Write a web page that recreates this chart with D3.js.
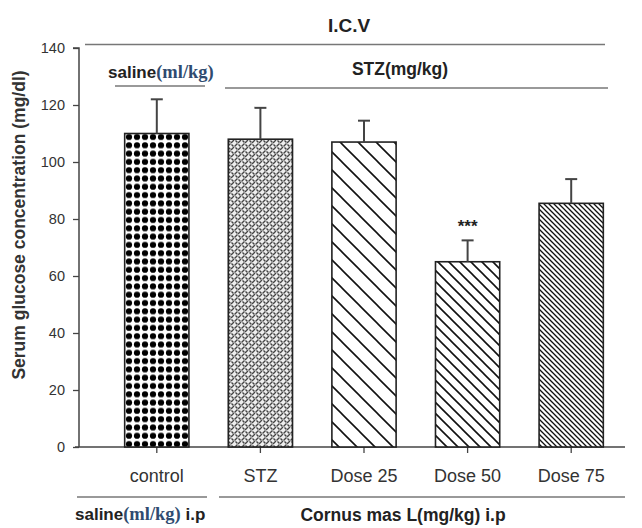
<!DOCTYPE html>
<html><head><meta charset="utf-8">
<script src="https://cdn.jsdelivr.net/npm/d3@7"></script>
<style>body{margin:0;background:#fff}svg{display:block}text{font-family:"Liberation Sans",Arial,sans-serif}</style>
</head><body>
<script>
const categories = ["control","STZ","Dose 25","Dose 50","Dose 75"];
const means = [110, 108, 107, 65, 85.5];
const errors = [12, 11, 7.5, 7.5, 8.5];
const patterns = ["dots","weave","diag18","diag11","diag5"];
const significance = ["","","","***",""];
const yTicks = [0,20,40,60,80,100,120,140];

const W = 642, H = 528;
const svg = d3.select("body").append("svg").attr("width", W).attr("height", H);
const defs = svg.append("defs");

// patterns
const pd = defs.append("pattern").attr("id","dots").attr("patternUnits","userSpaceOnUse")
  .attr("width",8).attr("height",8.3).attr("x",125).attr("y",0);
pd.append("rect").attr("width",8).attr("height",8.3).attr("fill","#fff");
pd.append("circle").attr("cx",4).attr("cy",4.15).attr("r",3.1).attr("fill","#000");

const pw = defs.append("pattern").attr("id","weave").attr("patternUnits","userSpaceOnUse")
  .attr("width",7).attr("height",7);
pw.append("rect").attr("width",7).attr("height",7).attr("fill","#eee");
pw.append("path").attr("d","M0,3 L3,0 M3.5,6.5 L6.5,3.5 M0.5,4.5 L2.5,6.5 M4.5,0.5 L6.5,2.5")
  .attr("stroke","#444").attr("stroke-width",1.4).attr("fill","none");

function diag(id, s, w) {
  const p = defs.append("pattern").attr("id",id).attr("patternUnits","userSpaceOnUse")
    .attr("width",s).attr("height",s);
  p.append("rect").attr("width",s).attr("height",s).attr("fill","#fff");
  p.append("path").attr("d",`M0,0L${s},${s} M${s-2},-2 L${s+2},2 M-2,${s-2} L2,${s+2}`)
    .attr("stroke","#111").attr("stroke-width",w).attr("fill","none");
}
diag("diag18", 18, 1.6);
diag("diag11", 11, 1.6);
diag("diag5", 5, 1.3);

const y = d3.scaleLinear().domain([0,140]).range([447,48]);
const x = d3.scaleBand().domain(categories).range([105,623]).paddingInner(0.38).paddingOuter(0.19);

// y axis
const ya = svg.append("g").attr("transform","translate(79,0)")
  .call(d3.axisLeft(y).tickValues(yTicks).tickSize(6).tickPadding(8));
ya.select(".domain").attr("stroke","#444").attr("stroke-width",1.5).attr("d","M-6,48H0V447");
ya.selectAll(".tick line").attr("stroke","#444").attr("stroke-width",1.3);
ya.selectAll(".tick text").attr("font-size",14.5).attr("fill","#333");

// x axis
const xa = svg.append("g").attr("transform","translate(0,447)")
  .call(d3.axisBottom(x).tickSize(6).tickPadding(16));
xa.select(".domain").remove();
xa.append("line").attr("x1",75).attr("x2",625).attr("y1",0).attr("y2",0).attr("stroke","#444").attr("stroke-width",1.5);
xa.selectAll(".tick line").attr("stroke","#444").attr("stroke-width",1.3);
xa.selectAll(".tick text").attr("font-size",18).attr("fill","#333");

// bars
const data = categories.map((c,i)=>({c, m:means[i], e:errors[i], p:patterns[i], s:significance[i]}));
svg.append("g").selectAll("rect").data(data).join("rect")
  .attr("x",d=>x(d.c)).attr("width",x.bandwidth())
  .attr("y",d=>y(d.m)).attr("height",d=>y(0)-y(d.m))
  .attr("fill",d=>`url(#${d.p})`).attr("stroke","#222").attr("stroke-width",1.6);

// error bars
const eb = svg.append("g").attr("stroke","#444").attr("stroke-width",2);
data.forEach(d=>{
  const cx = x(d.c)+x.bandwidth()/2;
  eb.append("line").attr("x1",cx).attr("x2",cx).attr("y1",y(d.m)).attr("y2",y(d.m+d.e));
  eb.append("line").attr("x1",cx-6).attr("x2",cx+6).attr("y1",y(d.m+d.e)).attr("y2",y(d.m+d.e));
});
svg.append("g").selectAll("text").data(data.filter(d=>d.s)).join("text")
  .attr("x",d=>x(d.c)+x.bandwidth()/2).attr("y",d=>y(d.m+d.e)-8)
  .attr("text-anchor","middle").attr("font-size",17).attr("font-weight","bold").attr("fill","#222")
  .text(d=>d.s);

// y label
svg.append("text").attr("transform","translate(25,225) rotate(-90)")
  .attr("text-anchor","middle").attr("font-size",17.5).attr("font-weight","bold").attr("fill","#333")
  .text("Serum glucose concentration (mg/dl)");

// annotations
const ann = svg.append("g");
ann.append("text").attr("x",349).attr("y",32).attr("text-anchor","middle")
  .attr("font-size",19).attr("font-weight","bold").attr("fill","#222").text("I.C.V");
ann.append("line").attr("x1",85).attr("x2",605).attr("y1",44.5).attr("y2",44.5).attr("stroke","#777").attr("stroke-width",1.5);

const sal = ann.append("text").attr("x",108).attr("y",78).attr("font-weight","bold");
sal.append("tspan").attr("font-size",17).attr("fill","#222").text("saline");
sal.append("tspan").attr("font-size",18.5).attr("fill","#2f4b70").attr("font-family","'Liberation Serif','DejaVu Serif',serif").text("(ml/kg)");
ann.append("line").attr("x1",115).attr("x2",205).attr("y1",86).attr("y2",86).attr("stroke","#777").attr("stroke-width",1.5);

ann.append("text").attr("x",400).attr("y",75).attr("text-anchor","middle")
  .attr("font-size",17.5).attr("font-weight","bold").attr("fill","#222").text("STZ(mg/kg)");
ann.append("line").attr("x1",225).attr("x2",608).attr("y1",88).attr("y2",88).attr("stroke","#777").attr("stroke-width",1.5);

ann.append("line").attr("x1",77).attr("x2",207).attr("y1",497).attr("y2",497).attr("stroke","#777").attr("stroke-width",1.5);
ann.append("line").attr("x1",219).attr("x2",625).attr("y1",497).attr("y2",497).attr("stroke","#777").attr("stroke-width",1.5);

const sal2 = ann.append("text").attr("x",75).attr("y",520).attr("font-weight","bold");
sal2.append("tspan").attr("font-size",17).attr("fill","#222").text("saline");
sal2.append("tspan").attr("font-size",18.5).attr("fill","#2f4b70").attr("font-family","'Liberation Serif','DejaVu Serif',serif").text("(ml/kg)");
sal2.append("tspan").attr("font-size",17).attr("fill","#222").text(" i.p");

ann.append("text").attr("x",403).attr("y",521).attr("text-anchor","middle")
  .attr("font-size",17.5).attr("font-weight","bold").attr("fill","#222").text("Cornus mas L(mg/kg) i.p");
</script>
</body></html>
